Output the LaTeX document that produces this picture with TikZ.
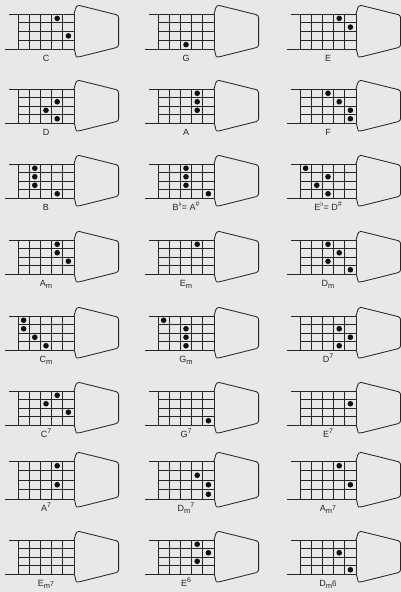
\documentclass[tikz,border=0pt]{standalone}
\usepackage{fontspec}
\newfontfamily\chordfont{Liberation Sans}
\usetikzlibrary{calc}
\definecolor{paper}{HTML}{E8E8E8}
\definecolor{ink}{HTML}{262626}
\definecolor{dot}{HTML}{111111}
\tikzset{
  fret/.style={draw=ink, line width=0.8pt},
  head/.style={draw=ink, line width=0.85pt, line join=round},
  finger/.style={fill=dot, draw=none},
  chordname/.style={font=\chordfont\fontsize{9}{10}\selectfont, text=ink,
                    anchor=base, inner sep=0pt},
}
\newcommand{\lo}[1]{\raisebox{-1.9pt}{\fontsize{7.5}{8}\selectfont #1}}
\newcommand{\hi}[1]{\raisebox{3.6pt}{\fontsize{7}{8}\selectfont #1}}

% #1 left x, #2 top y, #3 grid height, #4 node name, #5 label, #6 dots col/row
\newcommand{\ukechord}[6]{%
  \begin{scope}[shift={(#1,#2)}]
    \pgfmathsetmacro{\rh}{#3/4}
    % strings
    \draw[fret] (-9,0) -- (56,0);
    \draw[fret] (-13,#3) -- (56,#3);
    \foreach \k in {1,2,3} \draw[fret] (0,\k*\rh) -- (56,\k*\rh);
    % frets
    \foreach \k in {0,...,5} \draw[fret] (\k*11.2,0) -- (\k*11.2,#3);
    % head
    \draw[head] (56,0) .. controls (57.6,-4) and (57,-8.4) .. (61,-8.6)
      [rounded corners=2.5pt] -- (100.6,1.2) -- (100.6,#3-2) -- (61.5,#3+7.8)
      [sharp corners] .. controls (57.5,#3+8.2) and (57.6,#3+3) .. (56,#3);
    \if\relax\detokenize{#6}\relax\else
      \foreach \fc/\fr in {#6}
        \fill[finger] ({(\fc-0.5)*11.2},{(\fr-0.5)*\rh}) circle (2.8pt);
    \fi
    \node[chordname] (#4) at (28,#3+12.5) {#5};
  \end{scope}}

\begin{document}
\begin{tikzpicture}[x=1pt, y=-1pt]
  \fill[paper] (0,0) rectangle (401,592);
  \useasboundingbox (0,0) rectangle (401,592);

  \ukechord{18}{14}{35}{C}{C}{4/1,5/3}
  \ukechord{158}{14}{35}{G}{G}{3/4}
  \ukechord{300}{14}{35}{E}{E}{4/1,5/2}

  \ukechord{18}{89}{34}{D}{D}{4/2,3/3,4/4}
  \ukechord{158}{89}{34}{A}{A}{4/1,4/2,4/3}
  \ukechord{300}{89}{34}{F}{F}{3/1,4/2,5/3,5/4}

  \ukechord{18}{164}{34}{B}{B}{2/1,2/2,2/3,4/4}
  \ukechord{158}{164}{34}{Bflat}{B\hi{$\flat$}= A\hi{\#}}{3/1,3/2,3/3,5/4}
  \ukechord{300}{164}{34}{Eflat}{E\hi{$\flat$}= D\hi{\#}}{1/1,3/2,2/3,3/4}

  \ukechord{18}{240}{34}{Am}{A\lo{m}}{4/1,4/2,5/3}
  \ukechord{158}{240}{34}{Em}{E\lo{m}}{4/1}
  \ukechord{300}{240}{34}{Dm}{D\lo{m}}{3/1,4/2,3/3,5/4}

  \ukechord{18}{316}{34}{Cm}{C\lo{m}}{1/1,1/2,2/3,3/4}
  \ukechord{158}{316}{34}{Gm}{G\lo{m}}{1/1,3/2,3/3,3/4}
  \ukechord{300}{316}{34}{D7}{D\hi{7}}{4/2,5/3,4/4}

  \ukechord{18}{391}{34}{C7}{C\hi{7}}{4/1,3/2,5/3}
  \ukechord{158}{391}{34}{G7}{G\hi{7}}{5/4}
  \ukechord{300}{391}{34}{E7}{E\hi{7}}{5/2}

  \ukechord{18}{461}{38}{A7}{A\hi{7}}{4/1,4/3}
  \ukechord{158}{461}{38}{Dm7}{D\lo{m}\hi{7}}{4/2,5/3,5/4}
  \ukechord{300}{461}{38}{Am7}{A\lo{m}\raisebox{1.5pt}{\fontsize{7}{8}\selectfont 7}}{4/1,5/3}

  \ukechord{18}{540}{34}{Em7}{E\lo{m}{\fontsize{7}{8}\selectfont 7}}{}
  \ukechord{158}{540}{34}{E6}{E\hi{6}}{4/1,5/2,4/3}
  \ukechord{300}{540}{34}{Dm6}{D\lo{m}{\fontsize{8}{8}\selectfont 6}}{4/2,5/4}
\end{tikzpicture}
\end{document}
